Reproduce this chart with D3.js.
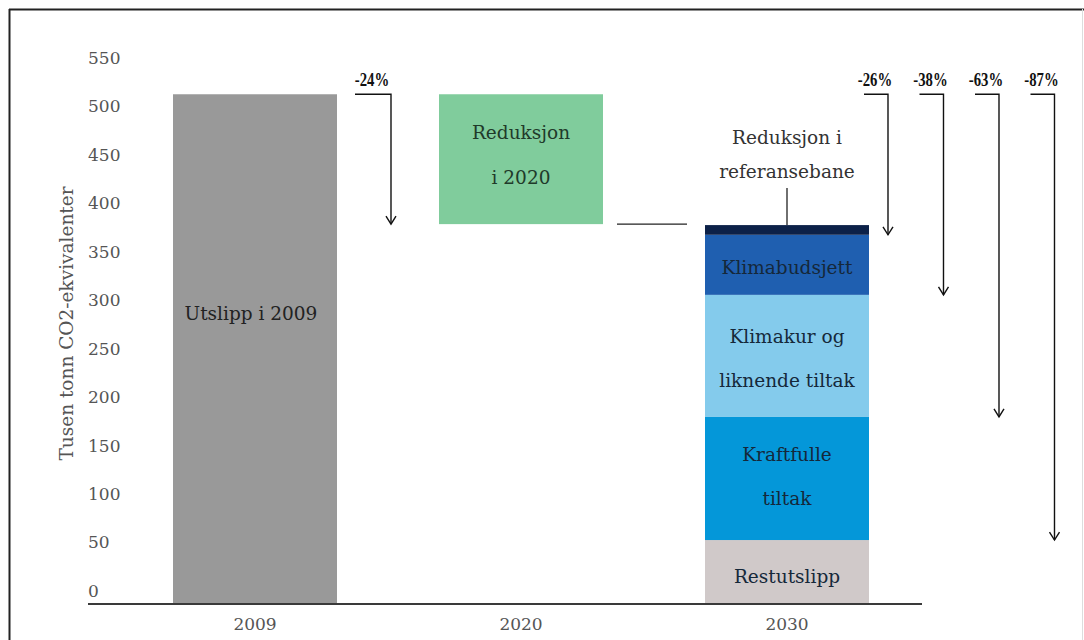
<!DOCTYPE html>
<html>
<head>
<meta charset="utf-8">
<script src="https://cdn.jsdelivr.net/npm/d3@7"></script>
<style>
  html, body { margin: 0; padding: 0; background: #fff; }
  svg { display: block; }
  .serif { font-family: "DejaVu Serif", "Liberation Serif", serif; }
  .pct { font-family: "Liberation Serif", serif; font-weight: bold; }
</style>
</head>
<body>
<svg id="chart" width="1084" height="640"></svg>
<script>
// ---------- data ----------
const categories = ["2009", "2020", "2030"];
const yTicks = [0, 50, 100, 150, 200, 250, 300, 350, 400, 450, 500, 550];
const emissions2009 = 526;             // Utslipp i 2009
const reduction2020 = 134;             // Reduksjon i 2020
const stackNames = ["Restutslipp", "Kraftfulle tiltak", "Klimakur og liknende tiltak", "Klimabudsjett", "Reduksjon i referansebane"];
const stackValues = [66, 127, 126, 62, 10];
const stackColors = ["#d0c9c9", "#0497d9", "#84cbec", "#1f5fb0", "#0c2148"];
const pctLabels = ["-24%", "-26%", "-38%", "-63%", "-87%"];

// ---------- setup ----------
const svg = d3.select("#chart");

const x = d3.scaleBand().domain(categories).range([122, 920]).paddingInner(0.3835).paddingOuter(0.19175);
const y = d3.scaleLinear().domain([0, 550]).range([604, 71]);

// frame
svg.append("line").attr("x1", 9).attr("x2", 1084).attr("y1", 9.5).attr("y2", 9.5).attr("stroke", "#222").attr("stroke-width", 2);
svg.append("line").attr("x1", 9.5).attr("x2", 9.5).attr("y1", 9).attr("y2", 640).attr("stroke", "#222").attr("stroke-width", 2);
svg.append("line").attr("x1", 1082.5).attr("x2", 1082.5).attr("y1", 9).attr("y2", 640).attr("stroke", "#ddd").attr("stroke-width", 1);

// y tick labels
const yAxis = d3.axisLeft(y).tickValues(yTicks).tickSize(0).tickFormat(d3.format("d"));
const gy = svg.append("g").attr("transform", "translate(88,0)").call(yAxis);
gy.select(".domain").remove();
gy.selectAll("text")
  .attr("class", "serif")
  .attr("text-anchor", "start")
  .attr("x", 0)
  .attr("dy", "0.32em")
  .attr("transform", "translate(0,-13)")
  .attr("fill", "#555")
  .style("font-size", "17px");

// y-axis title
svg.append("text").attr("class", "serif")
  .attr("transform", `translate(67,${(y(0) + y(550)) / 2 - 14}) rotate(-90)`)
  .attr("text-anchor", "middle").attr("dy", "0.35em")
  .attr("fill", "#555").style("font-size", "18.5px")
  .text("Tusen tonn CO2-ekvivalenter");

// bars
const bw = x.bandwidth();
svg.append("rect").attr("x", x("2009")).attr("width", bw)
  .attr("y", y(emissions2009)).attr("height", y(0) - y(emissions2009)).attr("fill", "#999999");
const level2020 = emissions2009 - reduction2020;
svg.append("rect").attr("x", x("2020")).attr("width", bw)
  .attr("y", y(emissions2009)).attr("height", y(level2020) - y(emissions2009)).attr("fill", "#80cc9c");
let cum = 0;
const stackData = stackValues.map((v, i) => { const d = { name: stackNames[i], y0: cum, y1: cum + v, color: stackColors[i] }; cum += v; return d; });
svg.append("g").selectAll("rect").data(stackData).join("rect")
  .attr("x", x("2030")).attr("width", bw)
  .attr("y", d => y(d.y1)).attr("height", d => y(d.y0) - y(d.y1))
  .attr("fill", d => d.color);

// connector 2020 -> 2030
svg.append("line").attr("x1", x("2020") + bw + 14).attr("x2", x("2030") - 18)
  .attr("y1", y(level2020)).attr("y2", y(level2020)).attr("stroke", "#222").attr("stroke-width", 1.3);

// x axis baseline
svg.append("line").attr("x1", 88).attr("x2", 922).attr("y1", y(0)).attr("y2", y(0))
  .attr("stroke", "#3a3a3a").attr("stroke-width", 2.2);

// x labels
const xAxis = d3.axisBottom(x).tickSize(0);
const gx = svg.append("g").attr("transform", `translate(0,${y(0)})`).call(xAxis);
gx.select(".domain").remove();
gx.selectAll("text").attr("class", "serif").attr("fill", "#555").style("font-size", "17px").attr("y", 20).attr("dy", "0.35em");

function multiLabel(cx, cy, lines, gap, color, size) {
  const t = svg.append("text").attr("class", "serif").attr("text-anchor", "middle")
    .attr("fill", color).style("font-size", size + "px");
  lines.forEach((l, i) => {
    t.append("tspan").attr("x", cx).attr("y", cy + (i - (lines.length - 1) / 2) * gap).attr("dy", "0.35em").text(l);
  });
}
const cx09 = x("2009") + bw / 2, cx20 = x("2020") + bw / 2, cx30 = x("2030") + bw / 2;
const FS = 18.5;
multiLabel(cx09 - 4, y(300), ["Utslipp i 2009"], 0, "#222", FS);
multiLabel(cx20, (y(emissions2009) + y(level2020)) / 2 - 4, ["Reduksjon", "i 2020"], 45, "#1f3a2a", FS);
const segLines = [["Restutslipp"], ["Kraftfulle", "tiltak"], ["Klimakur og", "liknende tiltak"], ["Klimabudsjett"]];
const segDy = [5, -2, 3, 3];
segLines.forEach((lines, i) => {
  const d = stackData[i];
  multiLabel(cx30, (y(d.y0) + y(d.y1)) / 2 + segDy[i], lines, 44, "#15283a", FS);
});
const top30 = stackData[stackData.length - 1];
multiLabel(cx30, 155, ["Reduksjon i", "referansebane"], 34, "#333", FS);
svg.append("line").attr("x1", cx30).attr("x2", cx30).attr("y1", 188).attr("y2", y(top30.y1))
  .attr("stroke", "#222").attr("stroke-width", 1.3);

// percentage arrows
const arrowTargets = [level2020, stackData[3].y1, stackData[2].y1, stackData[1].y1, stackData[0].y1];
const arrowX = [x("2009") + bw + 54];
for (let i = 0; i < 4; i++) arrowX.push(x("2030") + bw + 19 + i * 55.5);
const armLen = [36, 24, 24, 24, 24];
const ga = svg.append("g").attr("fill", "none").attr("stroke", "#111").attr("stroke-width", 1.4);
pctLabels.forEach((lab, i) => {
  const ax = arrowX[i], yTop = y(emissions2009), yEnd = y(arrowTargets[i]);
  ga.append("path").attr("d", `M${ax - armLen[i]},${yTop}H${ax}V${yEnd}`);
  ga.append("path").attr("d", `M${ax - 5},${yEnd - 8}L${ax},${yEnd}L${ax + 5},${yEnd - 8}`);
  const lx = ax - armLen[i] / 2 - 1, ly = yTop - 15;
  svg.append("text").attr("class", "pct")
    .attr("transform", `translate(${lx},${ly}) scale(0.82,1)`)
    .attr("text-anchor", "middle").attr("dy", "0.35em").attr("fill", "#111").style("font-size", "18px").text(lab);
});
</script>
</body>
</html>
